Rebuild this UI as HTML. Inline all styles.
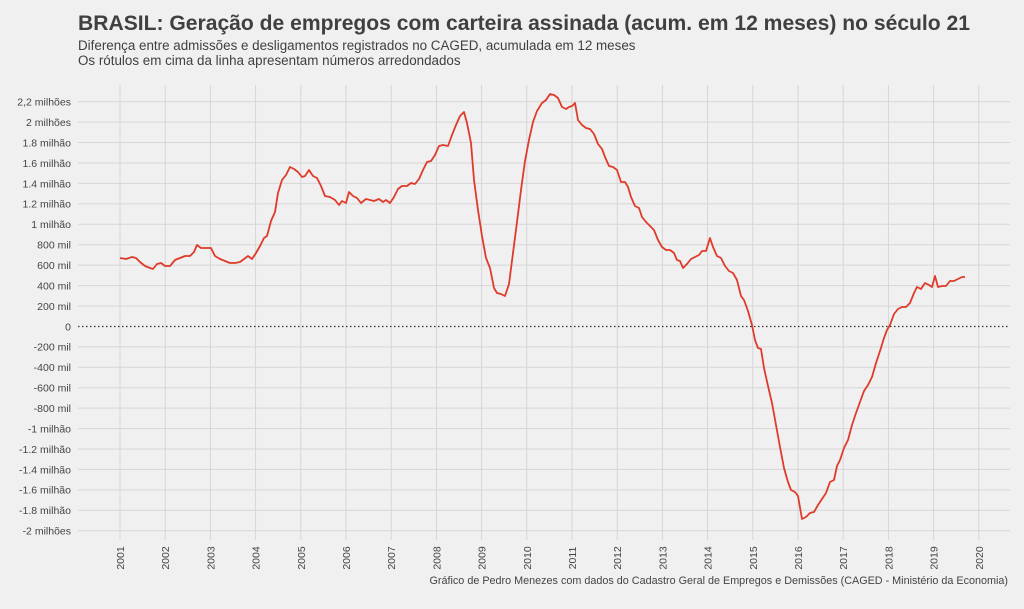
<!DOCTYPE html>
<html><head><meta charset="utf-8"><style>
body{margin:0;background:#f0f0f0;width:1024px;height:604px;overflow:hidden;font-family:"Liberation Sans",sans-serif}
</style></head><body>
<svg width="1024" height="604" xmlns="http://www.w3.org/2000/svg" font-family="Liberation Sans, sans-serif">
<rect width="1024" height="604" fill="#f0f0f0"/>
<text x="78" y="30" font-size="20.8" font-weight="bold" fill="#404040" textLength="892" lengthAdjust="spacingAndGlyphs">BRASIL: Geração de empregos com carteira assinada (acum. em 12 meses) no século 21</text>
<text x="78" y="50" font-size="13.4" fill="#404040">Diferença entre admissões e desligamentos registrados no CAGED, acumulada em 12 meses</text>
<text x="78" y="65" font-size="13.4" fill="#404040">Os rótulos em cima da linha apresentam números arredondados</text>
<g stroke="#d6d6d6" stroke-width="1">
<line x1="78" x2="1010" y1="101.7" y2="101.7"/><line x1="78" x2="1010" y1="122.1" y2="122.1"/><line x1="78" x2="1010" y1="142.5" y2="142.5"/><line x1="78" x2="1010" y1="163" y2="163"/><line x1="78" x2="1010" y1="183.4" y2="183.4"/><line x1="78" x2="1010" y1="203.9" y2="203.9"/><line x1="78" x2="1010" y1="224.3" y2="224.3"/><line x1="78" x2="1010" y1="244.7" y2="244.7"/><line x1="78" x2="1010" y1="265.1" y2="265.1"/><line x1="78" x2="1010" y1="285.6" y2="285.6"/><line x1="78" x2="1010" y1="306" y2="306"/><line x1="78" x2="1010" y1="346.9" y2="346.9"/><line x1="78" x2="1010" y1="367.3" y2="367.3"/><line x1="78" x2="1010" y1="387.7" y2="387.7"/><line x1="78" x2="1010" y1="408.1" y2="408.1"/><line x1="78" x2="1010" y1="428.6" y2="428.6"/><line x1="78" x2="1010" y1="449" y2="449"/><line x1="78" x2="1010" y1="469.4" y2="469.4"/><line x1="78" x2="1010" y1="489.9" y2="489.9"/><line x1="78" x2="1010" y1="510.3" y2="510.3"/><line x1="78" x2="1010" y1="530.7" y2="530.7"/>
<line y1="85" y2="540" x1="120" x2="120"/><line y1="85" y2="540" x1="165.2" x2="165.2"/><line y1="85" y2="540" x1="210.4" x2="210.4"/><line y1="85" y2="540" x1="255.6" x2="255.6"/><line y1="85" y2="540" x1="300.8" x2="300.8"/><line y1="85" y2="540" x1="346" x2="346"/><line y1="85" y2="540" x1="391.2" x2="391.2"/><line y1="85" y2="540" x1="436.4" x2="436.4"/><line y1="85" y2="540" x1="481.6" x2="481.6"/><line y1="85" y2="540" x1="526.8" x2="526.8"/><line y1="85" y2="540" x1="572" x2="572"/><line y1="85" y2="540" x1="617.2" x2="617.2"/><line y1="85" y2="540" x1="662.4" x2="662.4"/><line y1="85" y2="540" x1="707.6" x2="707.6"/><line y1="85" y2="540" x1="752.8" x2="752.8"/><line y1="85" y2="540" x1="798" x2="798"/><line y1="85" y2="540" x1="843.2" x2="843.2"/><line y1="85" y2="540" x1="888.4" x2="888.4"/><line y1="85" y2="540" x1="933.6" x2="933.6"/><line y1="85" y2="540" x1="978.8" x2="978.8"/>
</g>
<line x1="78" x2="1010" y1="326.5" y2="326.5" stroke="#333" stroke-width="1.3" stroke-dasharray="1.5,2.5"/>
<g font-size="10.5" fill="#444" text-anchor="end">
<text x="71" y="105.5">2,2 milhões</text><text x="71" y="126">2 milhões</text><text x="71" y="146.4">1.8 milhão</text><text x="71" y="166.8">1.6 milhão</text><text x="71" y="187.3">1.4 milhão</text><text x="71" y="207.7">1.2 milhão</text><text x="71" y="228.1">1 milhão</text><text x="71" y="248.5">800 mil</text><text x="71" y="269">600 mil</text><text x="71" y="289.4">400 mil</text><text x="71" y="309.8">200 mil</text><text x="71" y="330.3">0</text><text x="71" y="350.7">-200 mil</text><text x="71" y="371.1">-400 mil</text><text x="71" y="391.6">-600 mil</text><text x="71" y="412">-800 mil</text><text x="71" y="432.4">-1 milhão</text><text x="71" y="452.8">-1.2 milhão</text><text x="71" y="473.3">-1.4 milhão</text><text x="71" y="493.7">-1.6 milhão</text><text x="71" y="514.1">-1.8 milhão</text><text x="71" y="534.6">-2 milhões</text>
</g>
<g font-size="10.5" fill="#444" text-anchor="middle">
<text transform="translate(124,558) rotate(-90)">2001</text><text transform="translate(169.2,558) rotate(-90)">2002</text><text transform="translate(214.4,558) rotate(-90)">2003</text><text transform="translate(259.6,558) rotate(-90)">2004</text><text transform="translate(304.8,558) rotate(-90)">2005</text><text transform="translate(350,558) rotate(-90)">2006</text><text transform="translate(395.2,558) rotate(-90)">2007</text><text transform="translate(440.4,558) rotate(-90)">2008</text><text transform="translate(485.6,558) rotate(-90)">2009</text><text transform="translate(530.8,558) rotate(-90)">2010</text><text transform="translate(576,558) rotate(-90)">2011</text><text transform="translate(621.2,558) rotate(-90)">2012</text><text transform="translate(666.4,558) rotate(-90)">2013</text><text transform="translate(711.6,558) rotate(-90)">2014</text><text transform="translate(756.8,558) rotate(-90)">2015</text><text transform="translate(802,558) rotate(-90)">2016</text><text transform="translate(847.2,558) rotate(-90)">2017</text><text transform="translate(892.4,558) rotate(-90)">2018</text><text transform="translate(937.6,558) rotate(-90)">2019</text><text transform="translate(982.8,558) rotate(-90)">2020</text>
</g>
<polyline fill="none" stroke="#e03a2a" stroke-width="1.8" stroke-linejoin="round" points="120,258 126,259 132,257 136,258 140,262 145,266 150,268 153,269 157,264 161,263 165,266 170,266 175,260 180,258 185,256 190,256 194,252 197,245 201,248 206,248 211,248 215,256 220,259 225,261 230,263 235,263 240,262 244,259 248,256 252,259 256,253 260,246 264,238 267,236 271,221 275,212 278,193 282,180 286,175 290,167 294,169 298,172 302,177 305,176 309,170 313,176 317,178 321,186 325,196 330,197 335,200 339,205 342,201 346,203 349,192 353,196 357,198 361,203 366,199 370,200 374,201 379,199 383,202 386,200 390,203 394,197 398,189 402,186 407,186 411,183 415,184 419,179 423,170 427,162 431,161 435,155 439,146 443,145 448,146 452,135 456,125 460,116 464,112 467,123 471,143 474,180 478,210 482,236 486,258 490,268 494,288 497,293 501,294 505,296 509,284 513,253 517,222 521,190 525,161 529,140 533,122 537,111 542,103 546,100 550,94 554,95 558,98 562,107 566,109 569,107 572,106 575,103 578,120 582,125 586,128 590,129 594,134 598,144 602,149 605,157 609,166 613,167 617,170 621,182 625,182 628,187 631,197 635,206 639,208 642,217 646,222 650,226 654,230 658,240 662,247 666,250 670,250 674,253 677,260 680,261 683,268 687,264 691,259 695,257 699,255 702,251 706,251 710,238 713,247 717,256 721,258 725,266 729,271 733,273 737,280 741,296 744,300 748,311 752,325 755,340 758,348 761,349 764,368 768,386 772,403 776,425 780,447 784,468 788,482 791,490 795,492 798,496 802,519 806,517 810,513 814,512 818,505 822,499 826,493 830,482 834,480 837,466 840,460 844,448 848,440 852,425 856,413 860,402 864,391 868,385 872,377 876,363 880,351 884,338 887,330 890,325 894,314 898,309 902,307 906,307 910,303 914,293 917,287 921,289 925,283 929,285 932,287 935,276 938,287 942,286 946,286 950,281 954,281 958,279 962,277 965,277"/>
<text x="1008" y="584" font-size="10.8" fill="#444" text-anchor="end">Gráfico de Pedro Menezes com dados do Cadastro Geral de Empregos e Demissões (CAGED - Ministério da Economia)</text>
</svg>
</body></html>
